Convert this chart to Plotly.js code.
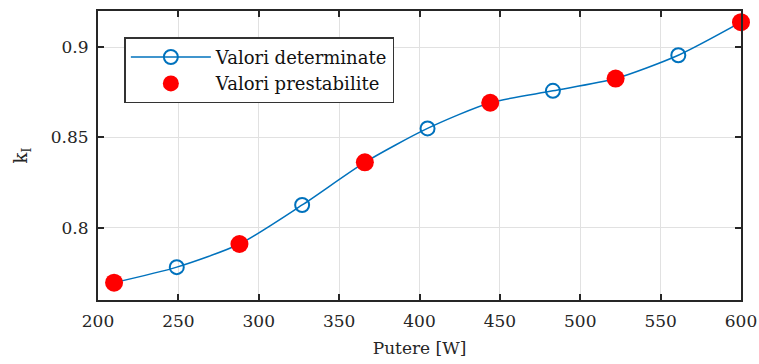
<!DOCTYPE html>
<html>
<head>
<meta charset="utf-8">
<script src="https://cdn.plot.ly/plotly-3.0.1.min.js"></script>
<style>html,body{margin:0;padding:0;background:#fff;}#chart{width:759px;height:364px;}</style>
</head>
<body>
<div id="chart"></div>
<script>
// Data
var putereAll = [210, 249, 288, 327, 366, 405, 444, 483, 522, 561, 600];
var kAll      = [0.7696, 0.7782, 0.7910, 0.8126, 0.8362, 0.8550, 0.8692, 0.8758, 0.8826, 0.8955, 0.9138];
var puterePrest = [210, 288, 366, 444, 522, 600];
var kPrest      = [0.7696, 0.7910, 0.8362, 0.8692, 0.8826, 0.9138];
var xTicks = [200, 250, 300, 350, 400, 450, 500, 550, 600];
var yTicks = [0.8, 0.85, 0.9];
var yTickText = ['0.8', '0.85', '0.9'];

var fontFam = 'DejaVu Serif, Liberation Serif, serif';
var axisColor = '#262626';

var traces = [
  {
    x: putereAll, y: kAll, type: 'scatter', mode: 'lines+markers',
    name: 'Valori determinate',
    line: {color: '#0072BD', width: 1.5, shape: 'spline', smoothing: 0.7},
    marker: {symbol: 'circle-open', size: 14, color: '#0072BD', line: {width: 2, color: '#0072BD'}},
    cliponaxis: false
  },
  {
    x: puterePrest, y: kPrest, type: 'scatter', mode: 'markers',
    name: 'Valori prestabilite',
    marker: {symbol: 'circle', size: 18, color: '#FF0000'},
    cliponaxis: false
  }
];

var layout = {
  width: 759, height: 364,
  margin: {l: 98, r: 18, t: 11, b: 64},
  paper_bgcolor: '#ffffff', plot_bgcolor: '#ffffff',
  font: {family: fontFam, size: 17, color: axisColor},
  showlegend: true,
  legend: {
    x: 0.041, y: 0.909, xanchor: 'left', yanchor: 'top',
    bgcolor: '#ffffff', bordercolor: '#333333', borderwidth: 1.5,
    font: {family: fontFam, size: 18, color: '#111111'},
    itemwidth: 80, tracegroupgap: 0
  },
  xaxis: {
    range: [200, 600], tickvals: xTicks, ticktext: xTicks.map(String),
    showgrid: true, gridcolor: '#e1e1e1', gridwidth: 1,
    zeroline: false, showline: true, linecolor: axisColor, linewidth: 2,
    mirror: 'ticks', ticks: 'inside', ticklen: 6, tickwidth: 2, tickcolor: axisColor,
    ticklabelstandoff: 5,
    tickfont: {family: fontFam, size: 17, color: '#262626'},
    title: {text: 'Putere [W]', font: {family: fontFam, size: 17, color: '#262626'}, standoff: 12}
  },
  yaxis: {
    range: [0.76, 0.92], tickvals: yTicks, ticktext: yTickText,
    showgrid: true, gridcolor: '#e1e1e1', gridwidth: 1,
    zeroline: false, showline: true, linecolor: axisColor, linewidth: 2,
    mirror: 'ticks', ticks: 'inside', ticklen: 6, tickwidth: 2, tickcolor: axisColor,
    ticklabelstandoff: 4,
    tickfont: {family: fontFam, size: 17, color: '#262626'},
    title: {text: 'k<sub>I</sub>', font: {family: fontFam, size: 18, color: '#262626'}, standoff: 18}
  }
};

Plotly.newPlot('chart', traces, layout, {displayModeBar: false, staticPlot: true});
</script>
</body>
</html>
